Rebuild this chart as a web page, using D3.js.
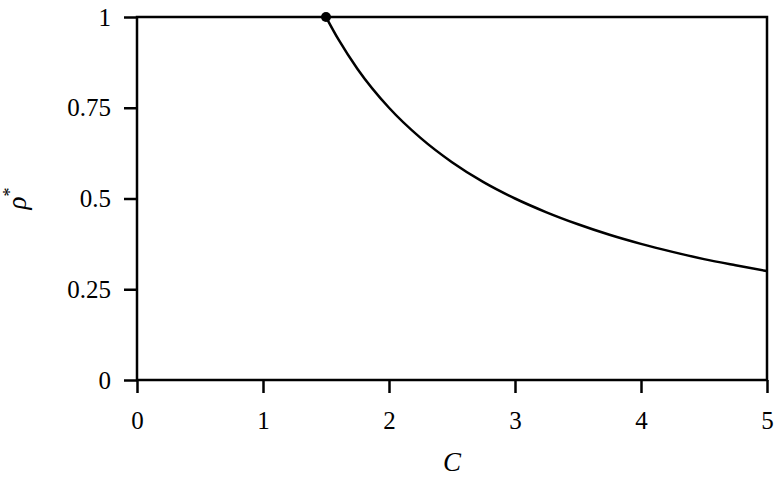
<!DOCTYPE html>
<html>
<head>
<meta charset="utf-8">
<script src="https://cdn.jsdelivr.net/npm/d3@7"></script>
<style>
  body { margin: 0; background: #fff; }
</style>
</head>
<body>
<div id="chart"></div>
<script>
var width  = 776,
    height = 477,
    margin = { top: 17, right: 9, bottom: 97, left: 137 },
    serif  = "Liberation Serif",
    lw     = 2.5;

// values
var cValues   = [1.5, 1.6, 1.75, 2, 2.25, 2.5, 2.75, 3, 3.25, 3.5, 3.75, 4, 4.25, 4.5, 4.75, 5];
var rhoValues = [1, 0.9375, 0.857, 0.75, 0.667, 0.6, 0.545, 0.5, 0.462, 0.429, 0.4, 0.375, 0.353, 0.333, 0.316, 0.3];
var xTicks = [0, 1, 2, 3, 4, 5];
var yTicks = [0, 0.25, 0.5, 0.75, 1];
var yTickLabels = ["0", "0.25", "0.5", "0.75", "1"];

var x = d3.scaleLinear()
    .domain([0, 5])
    .range([margin.left, width - margin.right]);
var y = d3.scaleLinear()
    .domain([0, 1])
    .range([height - margin.bottom, margin.top]);

var svg = d3.select("#chart").append("svg")
    .attr("width", width)
    .attr("height", height);

// frame
svg.append("rect")
    .attr("x", x(0))
    .attr("y", y(1))
    .attr("width", x(5) - x(0))
    .attr("height", y(0) - y(1))
    .attr("fill", "none")
    .attr("stroke", "#000")
    .attr("stroke-width", lw);

var gX = svg.append("g")
    .attr("transform", "translate(0," + y(0) + ")")
    .call(d3.axisBottom(x).tickValues(xTicks).tickFormat(d3.format("d"))
        .tickSize(13).tickSizeOuter(0).tickPadding(18));

var gY = svg.append("g")
    .attr("transform", "translate(" + x(0) + ",0)")
    .call(d3.axisLeft(y).tickValues(yTicks)
        .tickFormat(function(d, i) { return yTickLabels[i]; })
        .tickSize(13).tickSizeOuter(0).tickPadding(13));

[gX, gY].forEach(function(g) {
    g.select(".domain").remove();
    g.attr("font-family", serif).attr("font-size", 25);
    g.selectAll(".tick line").attr("stroke", "#000").attr("stroke-width", lw);
    g.selectAll(".tick text").attr("fill", "#000");
});

var points = cValues.map(function(c, i) { return [c, rhoValues[i]]; });

var line = d3.line()
    .x(function(d) { return x(d[0]); })
    .y(function(d) { return y(d[1]); })
    .curve(d3.curveMonotoneX);

svg.append("path")
    .datum(points)
    .attr("d", line)
    .attr("fill", "none")
    .attr("stroke", "#000")
    .attr("stroke-width", lw);

svg.append("circle")
    .attr("cx", x(cValues[0]))
    .attr("cy", y(rhoValues[0]))
    .attr("r", 5)
    .attr("fill", "#000");

// axis labels
svg.append("text")
    .attr("x", (x(0) + x(5)) / 2)
    .attr("y", 471)
    .attr("text-anchor", "middle")
    .attr("font-family", serif)
    .attr("font-style", "italic")
    .attr("font-size", 27)
    .text("C");

var yl = svg.append("text")
    .attr("transform", "translate(26," + y(0.5) + ") rotate(-90)")
    .attr("text-anchor", "middle")
    .attr("font-family", serif)
    .attr("font-size", 27);
yl.append("tspan").attr("font-style", "italic").text("ρ");
yl.append("tspan").attr("dy", -10).attr("font-size", 18).text("*");
</script>
</body>
</html>
